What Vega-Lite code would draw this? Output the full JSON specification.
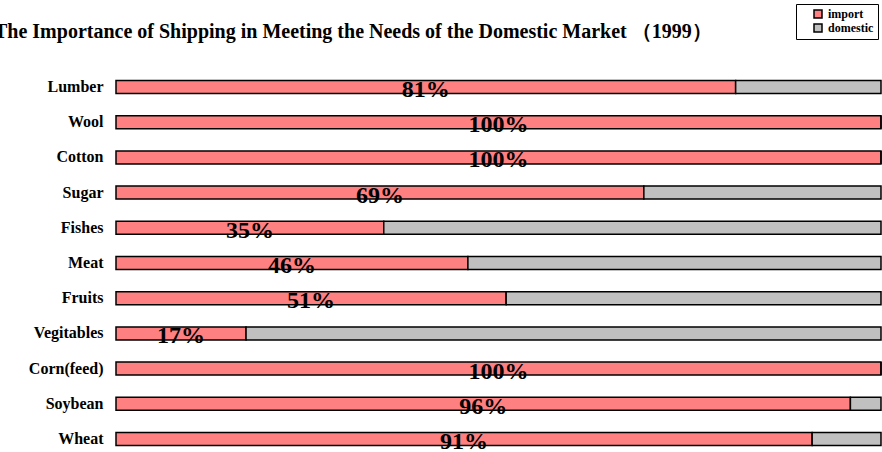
{
  "$schema": "https://vega.github.io/schema/vega-lite/v6.json",
  "autosize": "none",
  "width": 765,
  "height": 372,
  "padding": {"left": 116, "top": 77, "right": 1, "bottom": 3},
  "background": "white",
  "config": {"view": {"stroke": null}, "font": "Liberation Serif"},
  "title": {
    "text": "The Importance of Shipping in Meeting the Needs of the Domestic Market （1999）",
    "anchor": "start",
    "frame": "group",
    "font": "Liberation Serif",
    "fontSize": 20,
    "fontWeight": "bold",
    "color": "black",
    "dx": -122,
    "offset": -38
  },
  "data": {
    "values": [
      {"item": "Lumber", "type": "import", "value": 0.81},
      {"item": "Lumber", "type": "domestic", "value": 0.19},
      {"item": "Wool", "type": "import", "value": 1.0},
      {"item": "Wool", "type": "domestic", "value": 0.0},
      {"item": "Cotton", "type": "import", "value": 1.0},
      {"item": "Cotton", "type": "domestic", "value": 0.0},
      {"item": "Sugar", "type": "import", "value": 0.69},
      {"item": "Sugar", "type": "domestic", "value": 0.31},
      {"item": "Fishes", "type": "import", "value": 0.35},
      {"item": "Fishes", "type": "domestic", "value": 0.65},
      {"item": "Meat", "type": "import", "value": 0.46},
      {"item": "Meat", "type": "domestic", "value": 0.54},
      {"item": "Fruits", "type": "import", "value": 0.51},
      {"item": "Fruits", "type": "domestic", "value": 0.49},
      {"item": "Vegitables", "type": "import", "value": 0.17},
      {"item": "Vegitables", "type": "domestic", "value": 0.83},
      {"item": "Corn(feed)", "type": "import", "value": 1.0},
      {"item": "Corn(feed)", "type": "domestic", "value": 0.0},
      {"item": "Soybean", "type": "import", "value": 0.96},
      {"item": "Soybean", "type": "domestic", "value": 0.04},
      {"item": "Wheat", "type": "import", "value": 0.91},
      {"item": "Wheat", "type": "domestic", "value": 0.09}
    ]
  },
  "encoding": {
    "y": {
      "field": "item",
      "type": "nominal",
      "sort": null,
      "scale": {"paddingInner": 0.63, "paddingOuter": 0.1},
      "axis": {
        "title": null,
        "domain": false,
        "ticks": false,
        "labelFont": "Liberation Serif",
        "labelFontWeight": "bold",
        "labelFontSize": 16,
        "labelColor": "black",
        "labelPadding": 13
      }
    }
  },
  "layer": [
    {
      "mark": {"type": "bar", "stroke": "black", "strokeWidth": 1.5},
      "encoding": {
        "x": {
          "field": "value",
          "type": "quantitative",
          "stack": "zero",
          "scale": {"domain": [0, 1], "nice": false},
          "axis": null
        },
        "color": {
          "field": "type",
          "type": "nominal",
          "sort": ["import", "domestic"],
          "scale": {"domain": ["import", "domestic"], "range": ["#FF8080", "#C0C0C0"]},
          "legend": {
            "title": null,
            "orient": "none",
            "legendX": 680,
            "legendY": -73,
            "strokeColor": "black",
            "padding": 4,
            "fillColor": "white",
            "symbolType": "square",
            "symbolSize": 64,
            "symbolOffset": 12,
            "symbolStrokeColor": "black",
            "symbolStrokeWidth": 1.5,
            "labelFont": "Liberation Serif",
            "labelFontWeight": "bold",
            "labelFontSize": 12,
            "labelColor": "black",
            "rowPadding": 0,
            "labelOffset": 4
          }
        },
        "order": {"field": "type", "sort": "descending"}
      }
    },
    {
      "transform": [{"filter": "datum.type === 'import'"}],
      "mark": {
        "type": "text",
        "font": "Liberation Serif",
        "fontWeight": "bold",
        "fontSize": 24,
        "baseline": "alphabetic",
        "align": "center",
        "dy": 10,
        "color": "black"
      },
      "encoding": {
        "x": {
          "field": "value",
          "type": "quantitative",
          "scale": {"domain": [0, 2], "nice": false},
          "axis": null
        },
        "text": {"field": "value", "type": "quantitative", "format": ".0%"}
      }
    }
  ],
  "resolve": {"scale": {"x": "independent"}}
}
